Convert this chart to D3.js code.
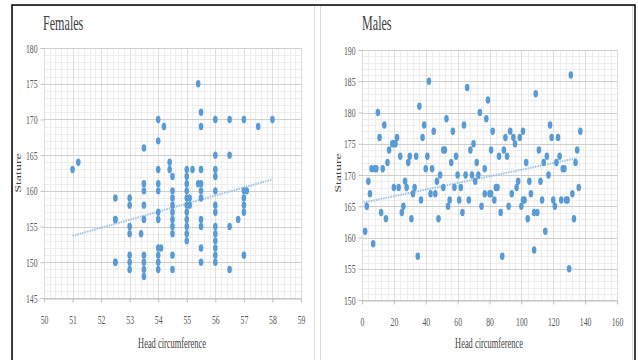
<!DOCTYPE html>
<html>
<head>
<meta charset="utf-8">
<script src="https://cdn.jsdelivr.net/npm/d3@7/dist/d3.min.js"></script>
<style>
  body { margin: 0; background: #fff; }
  text { font-family: "Liberation Serif", "DejaVu Serif", serif; }
</style>
</head>
<body>
<svg id="chart" width="638" height="360"></svg>
<script>
// Females: head circumference (cm) vs stature (cm)
const femaleHead = [
  51, 51.2,
  52.5, 52.5, 52.5, 52.5, 52.5,
  53, 53, 53, 53, 53, 53, 53, 53.4,
  53.5, 53.5, 53.5, 53.5, 53.5, 53.5, 53.5, 53.5, 53.5,
  54, 54, 54, 54, 54, 54, 54, 54, 54, 54, 54, 54.1, 54.2, 54.4, 54.4,
  54.5, 54.5, 54.5, 54.5, 54.5, 54.5, 54.5, 54.5, 54.5, 54.5,
  55, 55, 55, 55, 55, 55, 55, 55, 55, 55, 55, 55.1, 55.1, 55.2, 55.4, 55.4,
  55.5, 55.5, 55.5, 55.5, 55.5, 55.5, 55.5, 55.5, 55.5, 55.5,
  56, 56, 56, 56, 56, 56, 56, 56, 56, 56, 56, 56, 56,
  56.5, 56.5, 56.5, 56.5, 56.8,
  57, 57, 57, 57, 57, 57, 57.1, 57.5, 58
];
const femaleStature = [
  163, 164,
  159, 156, 156, 150, 150,
  159, 158, 155, 154, 151, 150, 149, 154,
  166, 161, 160, 158, 156, 151, 150, 149, 148,
  170, 167, 163, 161, 160, 157, 156, 152, 151, 150, 149, 152, 169, 164, 163,
  162, 160, 159, 158, 157, 156, 155, 154, 151, 149,
  163, 162, 161, 160, 159, 158, 157, 156, 155, 154, 153, 159, 158, 163, 175, 161,
  171, 169, 163, 161, 160, 159, 156, 155, 152, 150,
  170, 165, 163, 162, 160, 158, 157, 155, 154, 153, 152, 151, 150,
  170, 165, 155, 149, 156,
  170, 160, 159, 158, 157, 151, 160, 169, 170
];
const femaleTrendX = [51, 58];
const femaleTrendY = [153.7, 161.6];

// Males: subject number vs stature (cm)
const maleIndex = [
  6, 8, 9, 10, 11, 13, 14, 16, 17, 19, 20, 21, 22, 24, 29, 30, 34, 36, 38, 39,
  40, 41, 42, 44, 45, 51, 52, 53, 56, 57, 59, 64, 66, 68, 70, 72, 74, 77, 78, 79,
  82, 81, 86, 89, 91, 90, 93, 95, 96, 99, 101, 103, 109, 111, 114, 116, 118, 119, 122, 123,
  124, 126, 127, 131, 134, 135, 137,
  2, 3, 4, 5, 7, 12, 15, 20, 23, 25, 26, 27, 28, 31, 32, 33, 35, 37, 43, 46,
  47, 49, 48, 51, 54, 55, 58, 60, 61, 62, 63, 65, 67, 69, 71, 73, 75, 77, 80, 81,
  83, 84, 85, 87, 88, 92, 94, 97, 98, 100, 101, 102, 104, 105, 106, 108, 108, 110, 112, 113,
  115, 117, 120, 121, 125, 128, 129, 130, 132, 133, 136
];
const maleStature = [
  171, 171, 171, 180, 176, 171, 178, 172, 174, 175, 175, 175, 176, 173, 172, 173, 173, 181, 176, 178,
  171, 173, 185, 171, 177, 174, 174, 179, 172, 177, 173, 178, 184, 174, 175, 172, 180, 171, 179, 182,
  177, 174, 173, 174, 173, 176, 177, 176, 175, 176, 177, 172, 183, 174, 172, 173, 178, 176, 172, 176,
  173, 171, 171, 186, 172, 174, 177,
  161, 165, 169, 167, 159, 164, 163, 168, 168, 164, 165, 169, 168, 163, 167, 168, 157, 166, 167, 167,
  169, 170, 163, 168, 165, 166, 168, 170, 166, 168, 164, 170, 166, 170, 169, 170, 165, 167, 167, 167,
  166, 168, 168, 164, 157, 165, 167, 168, 169, 165, 166, 166, 163, 169, 167, 164, 158, 164, 169, 166,
  161, 170, 166, 165, 166, 166, 166, 155, 167, 163, 168
];
const maleTrendX = [1, 135];
const maleTrendY = [165.6, 172.7];

const femaleXTicks = [50, 51, 52, 53, 54, 55, 56, 57, 58, 59];
const femaleYTicks = [145, 150, 155, 160, 165, 170, 175, 180];
const maleXTicks = [0, 20, 40, 60, 80, 100, 120, 140, 160];
const maleYTicks = [150, 155, 160, 165, 170, 175, 180, 185, 190];

const dotColor = "#5b9bd5";
const svg = d3.select("#chart");

// outer frame and panel borders
svg.append("rect").attr("x", 12.5).attr("y", 5.5).attr("width", 302).attr("height", 360)
  .attr("fill", "none").attr("stroke", "#d9d9d9");
svg.append("rect").attr("x", 320.5).attr("y", 5.5).attr("width", 312).attr("height", 360)
  .attr("fill", "none").attr("stroke", "#d9d9d9");
svg.append("path").attr("d", "M12,370 V5 H635 V370")
  .attr("fill", "none").attr("stroke", "#000").attr("stroke-width", 1.5);

function scaledText(g, x, y, str, size, sx, anchor, fill) {
  return g.append("text")
    .attr("transform", "translate(" + x + "," + y + ") scale(" + sx + ",1)")
    .attr("text-anchor", anchor)
    .style("font-size", size + "px")
    .attr("fill", fill)
    .text(str);
}

function panel(opt) {
  const g = svg.append("g");
  const x = d3.scaleLinear().domain(opt.xDomain).range(opt.xRange);
  const y = d3.scaleLinear().domain(opt.yDomain).range(opt.yRange);

  // minor grid
  const xMinor = d3.range(opt.xDomain[0], opt.xDomain[1] + 1e-9, opt.xMinor);
  const yMinor = d3.range(opt.yDomain[0], opt.yDomain[1] + 1e-9, opt.yMinor);
  g.selectAll(".vminor").data(xMinor).enter().append("line")
    .attr("x1", d => Math.round(x(d)) + 0.5).attr("x2", d => Math.round(x(d)) + 0.5)
    .attr("y1", opt.yRange[0]).attr("y2", opt.yRange[1])
    .attr("stroke", "#eeeeee");
  g.selectAll(".hminor").data(yMinor).enter().append("line")
    .attr("y1", d => Math.round(y(d)) + 0.5).attr("y2", d => Math.round(y(d)) + 0.5)
    .attr("x1", opt.xRange[0]).attr("x2", opt.xRange[1])
    .attr("stroke", "#eeeeee");

  // major grid
  g.selectAll(".vmajor").data(opt.xTicks).enter().append("line")
    .attr("x1", d => Math.round(x(d)) + 0.5).attr("x2", d => Math.round(x(d)) + 0.5)
    .attr("y1", opt.yRange[0]).attr("y2", opt.yRange[1])
    .attr("stroke", "#dedede");
  g.selectAll(".hmajor").data(opt.yTicks).enter().append("line")
    .attr("y1", d => Math.round(y(d)) + 0.5).attr("y2", d => Math.round(y(d)) + 0.5)
    .attr("x1", opt.xRange[0]).attr("x2", opt.xRange[1])
    .attr("stroke", "#cfcfcf");

  // axes
  const xAxis = g.append("g")
    .attr("transform", "translate(0," + (Math.round(y(opt.yDomain[0])) + 0.5) + ")")
    .call(d3.axisBottom(x).tickValues(opt.xTicks).tickSize(4).tickSizeOuter(0).tickFormat(d3.format("d")));
  xAxis.select(".domain").attr("stroke", "#bfbfbf");
  xAxis.selectAll(".tick line").attr("stroke", "#bfbfbf");
  xAxis.selectAll(".tick text")
    .attr("y", 0).attr("dy", 0)
    .attr("transform", "translate(0,25) scale(0.62,1)")
    .style("font-size", "12.5px").style("font-family", "Liberation Serif")
    .attr("fill", "#595959");

  const yAxis = g.append("g")
    .attr("transform", "translate(" + (Math.round(opt.xRange[0]) + 0.5) + ",0)")
    .call(d3.axisLeft(y).tickValues(opt.yTicks).tickSize(4).tickSizeOuter(0).tickFormat(d3.format("d")));
  yAxis.select(".domain").remove();
  yAxis.selectAll(".tick line").attr("stroke", "#bfbfbf");
  yAxis.selectAll(".tick text")
    .attr("x", 0).attr("dy", "0.32em")
    .attr("transform", "translate(-7,0) scale(0.62,1)")
    .style("font-size", "12.5px").style("font-family", "Liberation Serif")
    .attr("fill", "#595959");

  // trendline
  const tr = opt.trendX.map((d, i) => [d, opt.trendY[i]]);
  g.append("path")
    .attr("d", d3.line().x(d => x(d[0])).y(d => y(d[1]))(tr))
    .attr("fill", "none").attr("stroke", "#9dc3e6")
    .attr("stroke-width", 2).attr("stroke-dasharray", "1.5,1");

  // points
  const pts = opt.xs.map((d, i) => [d, opt.ys[i]]);
  g.selectAll(".dot").data(pts).enter().append("ellipse")
    .attr("cx", d => x(d[0])).attr("cy", d => y(d[1]))
    .attr("rx", 2.3).attr("ry", 3.7)
    .attr("fill", dotColor);

  // texts
  scaledText(g, opt.titleX, 30, opt.title, 22, 0.55, "start", "#404040");
  scaledText(g, opt.xTitleX, 348, "Head circumference", 14, 0.6, "middle", "#404040");
  g.append("text")
    .attr("transform", "translate(" + opt.yTitleX + ",173) scale(0.62,1) rotate(-90)")
    .attr("text-anchor", "middle")
    .style("font-size", "14px")
    .attr("fill", "#404040")
    .text("Stature");
}

panel({
  xs: femaleHead, ys: femaleStature, trendX: femaleTrendX, trendY: femaleTrendY,
  xDomain: [50, 59], yDomain: [145, 180], xRange: [44, 301], yRange: [298, 48],
  xTicks: femaleXTicks, yTicks: femaleYTicks, xMinor: 0.2, yMinor: 1,
  title: "Females", titleX: 43, xTitleX: 172, yTitleX: 21
});

panel({
  xs: maleIndex, ys: maleStature, trendX: maleTrendX, trendY: maleTrendY,
  xDomain: [0, 160], yDomain: [150, 190], xRange: [362, 617], yRange: [300, 50],
  xTicks: maleXTicks, yTicks: maleYTicks, xMinor: 4, yMinor: 1,
  title: "Males", titleX: 362, xTitleX: 489, yTitleX: 341
});
</script>
</body>
</html>
